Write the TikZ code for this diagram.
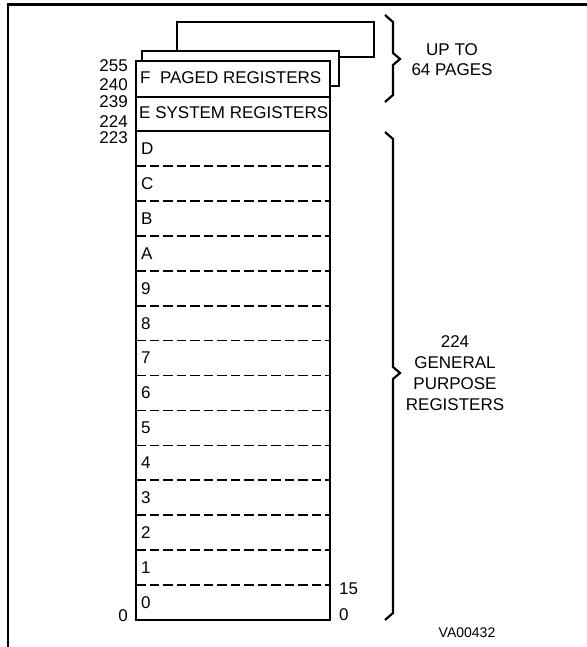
\documentclass[tikz,border=0pt]{standalone}
\usepackage{fontspec}
\setmainfont{Liberation Sans}
\usetikzlibrary{positioning}

\newcommand{\regbrace}[4]{%
  \draw[braceline] (#1-8,#2) -- (#1,#2+7) -- (#1,#3-6) -- (#1+7,#3) -- (#1,#3+6) -- (#1,#4-7) -- (#1-8,#4);}

\begin{document}
\begin{tikzpicture}[x=1pt, y=-1pt,
  lbl/.style={font=\fontsize{17}{20}\selectfont, inner sep=0pt},
  numl/.style={lbl, anchor=east},
  numr/.style={lbl, anchor=west},
  rowlbl/.style={lbl, anchor=west},
  regline/.style={draw=black, line width=1.7pt},
  sepline/.style={draw=black, line width=1.7pt, dash pattern=on 9.5pt off 4pt},
  braceline/.style={draw=black, line width=2.2pt, line join=miter},
  frameline/.style={draw=black, line width=2.6pt}
]
\useasboundingbox (0,0) rectangle (586,647);

\draw[frameline] (8,650) -- (8,4.5) -- (590,4.5);

\draw[regline] (177,51) |- (374,22) |- (339,57);
\draw[regline] (142,61) |- (339,51) |- (330,86);
\draw[regline] (136,61) rectangle (330,620);
\draw[regline] (136,97) -- (330,97);
\draw[regline] (136,131) -- (330,131);
\foreach \i in {1,...,13}
  \draw[sepline] (136,131+\i*34.93) -- (330,131+\i*34.93);

\node[lbl, anchor=west] (fpaged) at (140,78) {F\ \ PAGED REGISTERS};
\node[lbl, anchor=west] (esys) at (139,113) {E SYSTEM REGISTERS};
\foreach \lab [count=\i from 0] in {D,C,B,A,9,8,7,6,5,4,3,2,1,0}
  \node[rowlbl] (row\lab) at (141,131+\i*34.93+17.5) {\lab};

\node[numl] (n255) at (128,65.5) {255};
\node[numl] (n240) at (128,85) {240};
\node[numl] (n239) at (128,102) {239};
\node[numl] (n224) at (128,121.5) {224};
\node[numl] (n223) at (128,137.5) {223};
\node[numl] (n0l) at (128,616) {0};
\node[numr] (n15) at (339,589) {15};
\node[numr] (n0r) at (339,615) {0};

\regbrace{393}{15}{59}{102}
\regbrace{393}{132}{373}{620}

\node[lbl, align=center] (pages) at (452,60) {UP TO\\64 PAGES};
\node[lbl, font=\fontsize{17}{21}\selectfont, align=center] (gpr) at (455,373.5) {224\\GENERAL\\PURPOSE\\REGISTERS};
\node[lbl, font=\fontsize{14}{16}\selectfont] (figid) at (467,633) {VA00432};

\end{tikzpicture}
\end{document}
